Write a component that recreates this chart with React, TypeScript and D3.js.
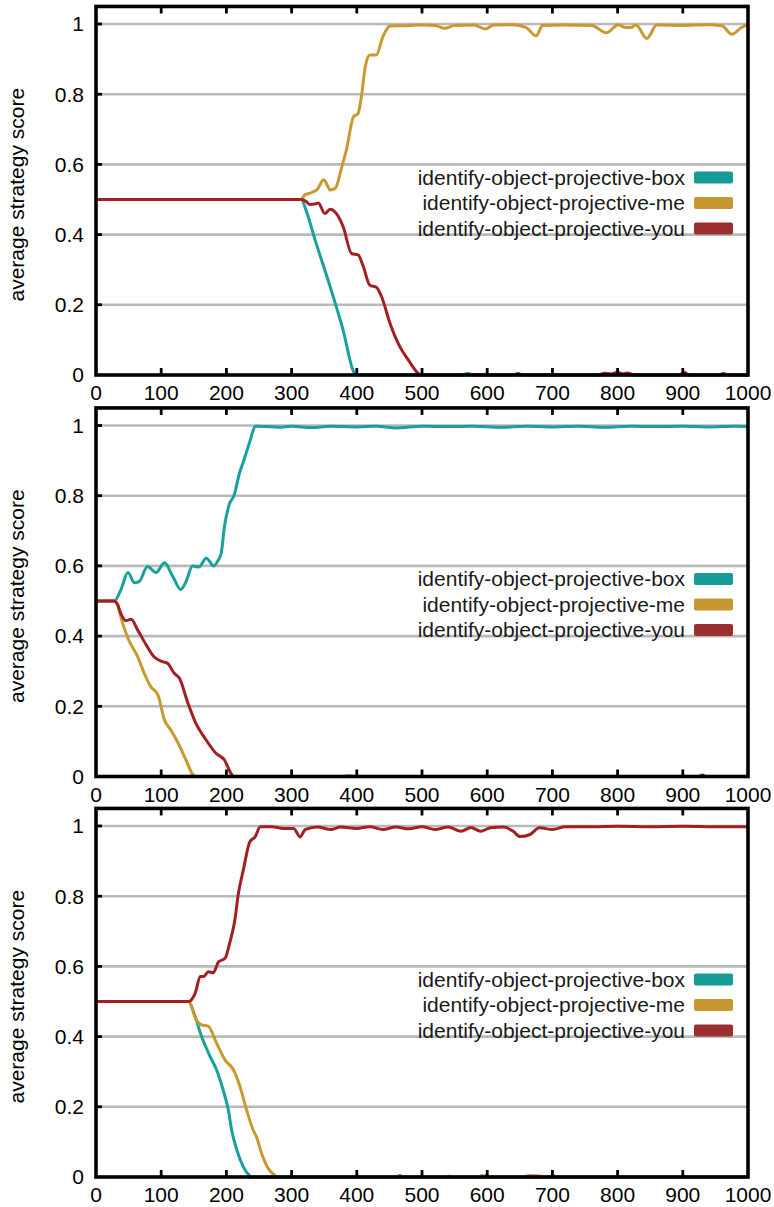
import * as d3 from "d3";
import { useEffect, useRef } from "react";

type Pt = [number, number];

const WIDTH = 774;
const HEIGHT = 1207;
const PLOT = { left: 96, right: 748 };
const PANEL_Y0 = [375, 776.5, 1177]; // pixel row of score 0 in each panel
const PANEL_H = 351; // pixels per 1.0 score
const COLORS = ["#18a09b", "#c9982e", "#a31f23"]; // box, me, you
const SWATCH = ["#169c98", "#c7972f", "#9b2f30"];

const SERIES_NAMES = [
  "identify-object-projective-box",
  "identify-object-projective-me",
  "identify-object-projective-you",
];
const X_TICKS = [0, 100, 200, 300, 400, 500, 600, 700, 800, 900, 1000];
const Y_TICKS = [0, 0.2, 0.4, 0.6, 0.8, 1];
const Y_LABEL = "average strategy score";

// panel 1
const p1Box: Pt[] = [
  [0, 0.5], [315, 0.5], [322, 0.47], [336, 0.385], [359, 0.252], [379, 0.128],
  [395, 0.01], [399, 0], [560, 0], [570, 0.004], [580, 0], [1000, 0],
];
const p1Me: Pt[] = [
  [0, 0.5], [315, 0.5], [320, 0.513], [331, 0.52], [340, 0.53], [349, 0.556],
  [355, 0.54], [359, 0.527], [367, 0.532], [377, 0.593], [384, 0.641],
  [395, 0.736], [402, 0.745], [407, 0.793], [413, 0.878], [420, 0.912],
  [430, 0.912], [440, 0.964], [451, 0.994], [470, 0.995], [500, 0.997],
  [520, 0.996], [535, 0.988], [550, 0.996], [580, 0.997], [597, 0.986],
  [610, 0.997], [640, 0.998], [660, 0.99], [675, 0.966], [685, 0.996],
  [720, 0.997], [760, 0.996], [783, 0.975], [801, 0.998], [812, 0.99],
  [820, 0.99], [828, 0.997], [845, 0.959], [860, 0.997], [900, 0.996],
  [940, 0.998], [960, 0.995], [975, 0.971], [990, 0.99], [1000, 0.998],
];
const p1You: Pt[] = [
  [0, 0.5], [315, 0.5], [322, 0.495], [328, 0.486], [335, 0.487], [341, 0.49],
  [351, 0.46], [359, 0.472], [369, 0.459], [379, 0.423], [392, 0.346],
  [402, 0.342], [410, 0.309], [420, 0.256], [430, 0.25], [438, 0.223],
  [451, 0.147], [466, 0.081], [479, 0.043], [494, 0.005], [498, 0], [640, 0],
  [647, 0.004], [655, 0], [770, 0], [780, 0.005], [790, 0.003], [800, 0.008],
  [808, 0.003], [815, 0.006], [825, 0], [895, 0], [902, 0.008], [910, 0],
  [955, 0], [962, 0.004], [970, 0], [1000, 0],
];

// panel 2
const p2Box: Pt[] = [
  [0, 0.5], [28, 0.5], [38, 0.531], [49, 0.581], [59, 0.552], [66, 0.555],
  [79, 0.598], [92, 0.581], [105, 0.609], [118, 0.569], [130, 0.533],
  [138, 0.555], [148, 0.6], [158, 0.597], [169, 0.622], [181, 0.6],
  [187, 0.615], [192, 0.636], [197, 0.712], [204, 0.773], [212, 0.802],
  [220, 0.864], [227, 0.902], [235, 0.949], [245, 0.998], [260, 0.997],
  [280, 0.995], [300, 0.998], [330, 0.994], [360, 0.998], [400, 0.996],
  [430, 0.998], [460, 0.993], [500, 0.998], [540, 0.997], [580, 0.998],
  [620, 0.995], [660, 0.998], [700, 0.996], [740, 0.998], [780, 0.995],
  [820, 0.998], [860, 0.997], [900, 0.998], [940, 0.996], [980, 0.998],
  [1000, 0.997],
];
const p2Me: Pt[] = [
  [0, 0.5], [28, 0.5], [33, 0.49], [38, 0.455], [49, 0.394], [64, 0.341],
  [74, 0.294], [84, 0.256], [95, 0.232], [105, 0.161], [115, 0.132],
  [125, 0.099], [138, 0.047], [148, 0.007], [152, 0], [380, 0], [388, 0.003],
  [395, 0], [1000, 0],
];
const p2You: Pt[] = [
  [0, 0.5], [28, 0.5], [33, 0.49], [38, 0.465], [46, 0.444], [54, 0.448],
  [64, 0.417], [77, 0.375], [89, 0.341], [102, 0.327], [110, 0.322],
  [120, 0.294], [128, 0.28], [141, 0.209], [153, 0.152], [169, 0.104],
  [184, 0.066], [197, 0.047], [207, 0.009], [211, 0], [925, 0], [930, 0.004],
  [935, 0], [1000, 0],
];

// panel 3
const p3Box: Pt[] = [
  [0, 0.5], [142, 0.5], [152, 0.457], [162, 0.4], [175, 0.343], [185, 0.305],
  [195, 0.248], [203, 0.191], [208, 0.134], [216, 0.077], [226, 0.029],
  [235, 0.005], [239, 0], [460, 0], [466, 0.004], [472, 0], [592, 0],
  [599, 0.004], [606, 0], [695, 0], [701, 0.004], [707, 0], [1000, 0],
];
const p3Me: Pt[] = [
  [0, 0.5], [142, 0.5], [154, 0.447], [162, 0.433], [172, 0.43], [185, 0.381],
  [198, 0.333], [211, 0.305], [221, 0.257], [231, 0.191], [241, 0.134],
  [246, 0.115], [254, 0.067], [264, 0.025], [274, 0.005], [279, 0], [535, 0],
  [541, 0.003], [547, 0], [585, 0], [592, 0.004], [600, 0], [655, 0],
  [665, 0.004], [680, 0.003], [688, 0], [1000, 0],
];
const p3You: Pt[] = [
  [0, 0.5], [142, 0.5], [152, 0.523], [160, 0.571], [166, 0.572], [172, 0.585],
  [180, 0.582], [188, 0.613], [198, 0.623], [205, 0.666], [213, 0.732],
  [218, 0.803], [226, 0.875], [236, 0.955], [244, 0.969], [252, 0.998],
  [270, 0.998], [287, 0.993], [303, 0.993], [313, 0.969], [321, 0.99],
  [340, 0.997], [360, 0.99], [375, 0.997], [400, 0.993], [420, 0.998],
  [440, 0.99], [460, 0.997], [480, 0.992], [500, 0.998], [520, 0.99],
  [540, 0.997], [560, 0.985], [575, 0.996], [590, 0.985], [605, 0.995],
  [625, 0.997], [640, 0.985], [650, 0.97], [665, 0.975], [680, 0.995],
  [700, 0.99], [720, 0.998], [760, 0.998], [800, 0.999], [850, 0.998],
  [900, 0.999], [950, 0.998], [1000, 0.998],
];

const PANELS: Pt[][][] = [
  [p1Box, p1Me, p1You],
  [p2Box, p2Me, p2You],
  [p3Box, p3Me, p3You],
];

const FONT = "'Liberation Sans', Arial, Helvetica, sans-serif";

const App = () => {
  const svgRef = useRef<SVGSVGElement>(null);

  useEffect(() => {
    if (!svgRef.current) return;
    const root = d3.select(svgRef.current);
    root.selectAll("*").remove();

    const xScale = d3.scaleLinear().domain([0, 1000]).range([PLOT.left, PLOT.right]);

    PANELS.forEach((series, pi) => {
      const y0 = PANEL_Y0[pi];
      const yScale = d3
        .scaleLinear()
        .domain([0, 1.05])
        .range([y0, y0 - PANEL_H * 1.05]);
      const top = yScale(1.05);
      const g = root.append("g");

      // grid
      g.selectAll(".grid")
        .data(Y_TICKS.filter((t) => t > 0))
        .join("line")
        .attr("x1", PLOT.left)
        .attr("x2", PLOT.right)
        .attr("y1", (d) => yScale(d))
        .attr("y2", (d) => yScale(d))
        .attr("stroke", "#b9b9b9")
        .attr("stroke-width", 2.6);

      // legend
      const legend = g.append("g").attr("font-family", FONT).attr("font-size", 21);
      SERIES_NAMES.forEach((name, i) => {
        const cy = top + 171 + i * 25.5;
        legend
          .append("text")
          .attr("x", 685)
          .attr("y", cy)
          .attr("dy", "0.35em")
          .attr("text-anchor", "end")
          .attr("fill", "#1a1a1a")
          .text(name);
        legend
          .append("rect")
          .attr("x", 694)
          .attr("y", cy - 6)
          .attr("width", 39)
          .attr("height", 12)
          .attr("rx", 2)
          .attr("fill", SWATCH[i]);
      });

      const line = d3
        .line<Pt>()
        .x((d) => xScale(d[0]))
        .y((d) => yScale(d[1]))
        .curve(d3.curveMonotoneX);

      series.forEach((s, i) => {
        g.append("path")
          .datum(s)
          .attr("fill", "none")
          .attr("stroke", COLORS[i])
          .attr("stroke-width", 3)
          .attr("stroke-linejoin", "round")
          .attr("d", line);
      });

      // ticks (inward, top + bottom + left)
      X_TICKS.slice(1, -1).forEach((t) => {
        g.append("line")
          .attr("x1", xScale(t)).attr("x2", xScale(t))
          .attr("y1", y0).attr("y2", y0 - 7)
          .attr("stroke", "#000").attr("stroke-width", 2.8);
        g.append("line")
          .attr("x1", xScale(t)).attr("x2", xScale(t))
          .attr("y1", top).attr("y2", top + 7)
          .attr("stroke", "#000").attr("stroke-width", 2.8);
      });
      Y_TICKS.slice(1).forEach((t) => {
        g.append("line")
          .attr("x1", PLOT.left).attr("x2", PLOT.left + 6)
          .attr("y1", yScale(t)).attr("y2", yScale(t))
          .attr("stroke", "#000").attr("stroke-width", 2.8);
      });

      // frame
      g.append("rect")
        .attr("x", PLOT.left)
        .attr("y", top)
        .attr("width", PLOT.right - PLOT.left)
        .attr("height", y0 - top)
        .attr("fill", "none")
        .attr("stroke", "#000")
        .attr("stroke-width", 3.6);

      // tick labels
      g.selectAll(".xl")
        .data(X_TICKS)
        .join("text")
        .attr("x", (d) => xScale(d))
        .attr("y", y0 + 25)
        .attr("text-anchor", "middle")
        .attr("font-family", FONT)
        .attr("font-size", 21)
        .text((d) => String(d));

      g.selectAll(".yl")
        .data(Y_TICKS)
        .join("text")
        .attr("x", 84)
        .attr("y", (d) => yScale(d))
        .attr("dy", "0.35em")
        .attr("text-anchor", "end")
        .attr("font-family", FONT)
        .attr("font-size", 21)
        .text((d) => String(d));

      g.append("text")
        .attr("transform", `translate(16.5,${(top + y0) / 2 + 4}) rotate(-90)`)
        .attr("dy", "0.35em")
        .attr("text-anchor", "middle")
        .attr("font-family", FONT)
        .attr("font-size", 21)
        .text(Y_LABEL);
    });
  }, []);

  return (
    <svg
      ref={svgRef}
      width={WIDTH}
      height={HEIGHT}
      style={{ position: "absolute", left: 0, top: 0, background: "#fff" }}
    />
  );
};

export default App;
